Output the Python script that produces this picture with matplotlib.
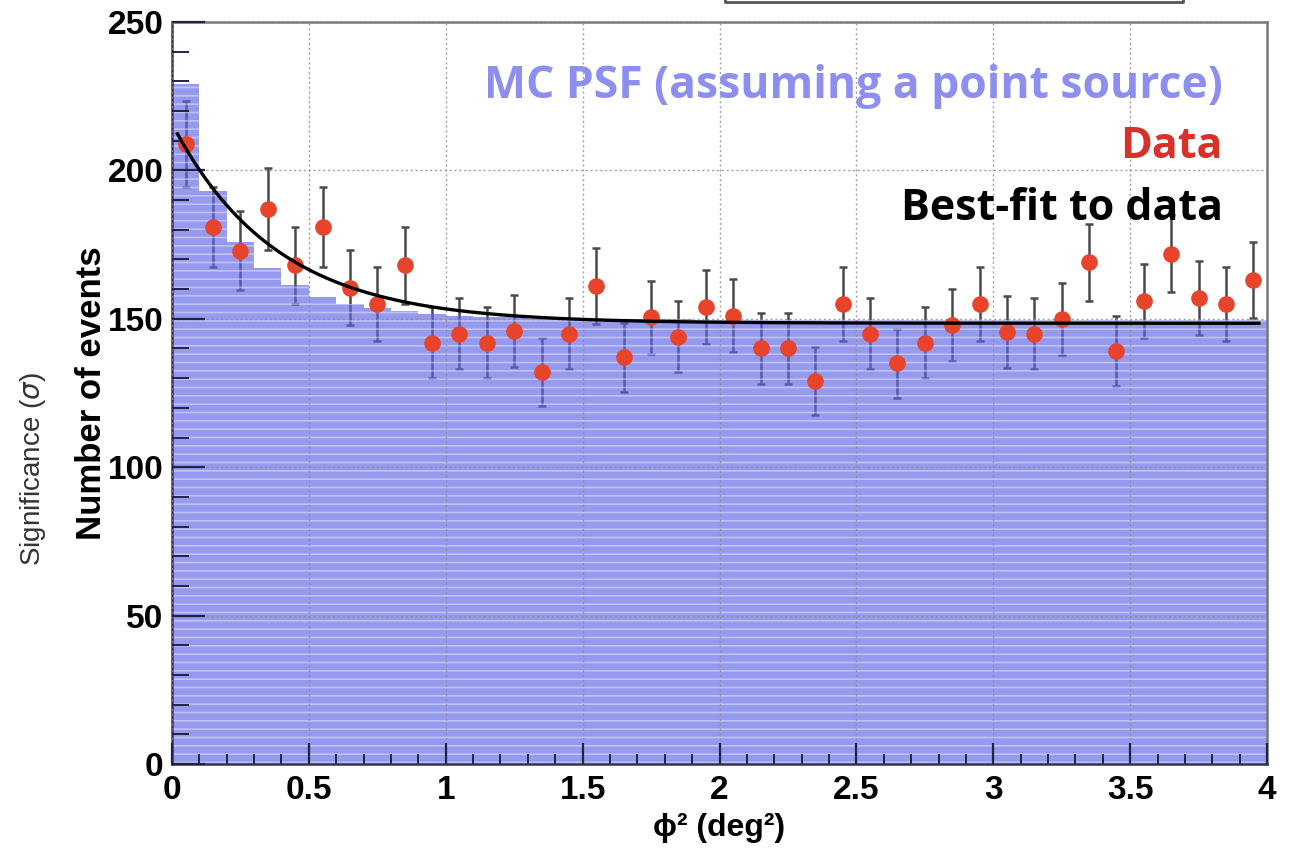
import numpy as np
import matplotlib
matplotlib.use("Agg")
import matplotlib.pyplot as plt
from matplotlib.lines import Line2D
from matplotlib.ticker import MultipleLocator

# bin edges in phi^2 (deg^2), width 0.1
bin_edges = np.round(np.arange(0, 4.0001, 0.1), 2)
bin_centers = bin_edges[:-1] + 0.05

# MC PSF histogram (events per bin)
mc_psf = [229, 193, 176, 167, 161.5, 157.5, 155, 153.5, 152.5, 151.5,
          151, 150.5, 150.5, 150, 150, 150, 150, 150, 150, 149.5,
          149.5, 149.5, 149.5, 149.5, 149.5, 149.5, 149.5, 149.5, 149.5, 149.5,
          149.5, 149.5, 149.5, 149.5, 149.5, 149.5, 149.5, 149.5, 149.5, 149.5]

# data counts and errors
data_counts = [209, 181, 173, 187, 168, 181, 160.5, 155, 168, 142,
               145, 142, 146, 132, 145, 161, 137, 150.5, 144, 154,
               151, 140, 140, 129, 155, 145, 135, 142, 148, 155,
               145.5, 145, 150, 169, 139, 156, 172, 157, 155, 163]
data_errors = [14.5, 13.5, 13.2, 13.7, 13.0, 13.5, 12.7, 12.4, 13.0, 11.9,
               12.0, 11.9, 12.1, 11.5, 12.0, 12.7, 11.7, 12.3, 12.0, 12.4,
               12.3, 11.8, 11.8, 11.4, 12.4, 12.0, 11.6, 11.9, 12.2, 12.4,
               12.1, 12.0, 12.2, 13.0, 11.8, 12.5, 13.1, 12.5, 12.4, 12.8]

# best-fit: const + amp * exp(-x / tau)
fit_const = 148.5
fit_amp = 67.3
fit_tau = 0.38
fit_range = (0.02, 3.97)

fig = plt.figure(figsize=(12.92, 8.48), dpi=100)
ax = fig.add_axes([0.1331, 0.0991, 0.9807 - 0.1331, 0.974 - 0.0991])

plt.rcParams['hatch.color'] = (1, 1, 1, 0.4)
plt.rcParams['hatch.linewidth'] = 1.2

# error bars under the histogram (they look navy through the fill)
ax.errorbar(bin_centers, data_counts, yerr=data_errors, fmt='none',
            ecolor='#4a4a4a', elinewidth=1.8, capsize=3, capthick=1.8, zorder=1)

ax.bar(bin_edges[:-1], mc_psf, width=0.1, align='edge', color='#5c64e6',
       alpha=0.65, linewidth=0, hatch='--', zorder=2)

ax.plot(bin_centers, data_counts, 'o', color='#e8432b', markersize=12,
        markeredgewidth=0, zorder=4)

xf = np.linspace(fit_range[0], fit_range[1], 400)
ax.plot(xf, fit_const + fit_amp * np.exp(-xf / fit_tau), color='black',
        linewidth=2.4, zorder=5)

ax.set_xlim(0, 4)
ax.set_ylim(0, 250)
ax.xaxis.set_major_locator(MultipleLocator(0.5))
ax.xaxis.set_minor_locator(MultipleLocator(0.1))
ax.yaxis.set_major_locator(MultipleLocator(50))
ax.yaxis.set_minor_locator(MultipleLocator(10))
ax.set_xticks(np.arange(0, 4.01, 0.5))
ax.set_xticklabels(['0', '0.5', '1', '1.5', '2', '2.5', '3', '3.5', '4'])

ax.grid(True, which='major', color='#8a8a8a', linestyle=(0, (1.5, 2)),
        linewidth=1.0, alpha=0.8, zorder=3)
ax.set_axisbelow(False)

ax.tick_params(axis='x', which='major', direction='in', length=15, width=1.6,
               color='#222244', pad=8, labelsize=24)
ax.tick_params(axis='x', which='minor', direction='in', length=7, width=1.4,
               color='#222244')
ax.tick_params(axis='y', which='major', direction='in', length=24, width=1.6,
               color='#222244', pad=6, labelsize=24)
ax.tick_params(axis='y', which='minor', direction='in', length=12, width=1.4,
               color='#222244')
for lab in ax.get_xticklabels() + ax.get_yticklabels():
    lab.set_fontfamily('Liberation Sans')
    lab.set_fontweight('bold')

for side in ['top', 'right']:
    ax.spines[side].set_color('#777777')
    ax.spines[side].set_linewidth(1.8)
for side in ['left', 'bottom']:
    ax.spines[side].set_color('#333355')
    ax.spines[side].set_linewidth(1.8)

ax.set_ylabel('Number of events', fontsize=25, fontweight='bold',
              family='Liberation Sans')
ax.yaxis.set_label_coords(-0.058, 0.5)
ax.set_xlabel('\u03d5\u00b2 (deg\u00b2)', fontsize=23, fontweight='bold',
              family=['Liberation Sans', 'DejaVu Sans'])
ax.xaxis.set_label_coords(0.50, -0.086)
ax.xaxis.label.set_va('center')

# annotations
fig.text(1223 / 1292, 1 - 98 / 848, 'MC PSF (assuming a point source)',
         ha='right', va='baseline', fontsize=32, fontweight='bold',
         family='Open Sans', color='#8c8ff0')
fig.text(1223 / 1292, 1 - 158 / 848, 'Data', ha='right', va='baseline',
         fontsize=31, fontweight='bold', family='Open Sans', color='#d8312a')
fig.text(1223 / 1292, 1 - 220 / 848, 'Best-fit to data', ha='right',
         va='baseline', fontsize=31, fontweight='bold', family='Open Sans',
         color='black')

fig.text(33 / 1292, 1 - 469 / 848, 'Significance ($\\sigma$)', rotation=90,
         ha='center', va='center', fontsize=20, family='Liberation Sans',
         color='#333333')

# edge of the box above the plot
fig.add_artist(Line2D([725 / 1292, 725 / 1292, 1183 / 1292, 1183 / 1292],
                      [1.0, 1 - 2 / 848, 1 - 2 / 848, 1.0],
                      transform=fig.transFigure, color='#555555', linewidth=2))

fig.savefig('out.png', dpi=100)
